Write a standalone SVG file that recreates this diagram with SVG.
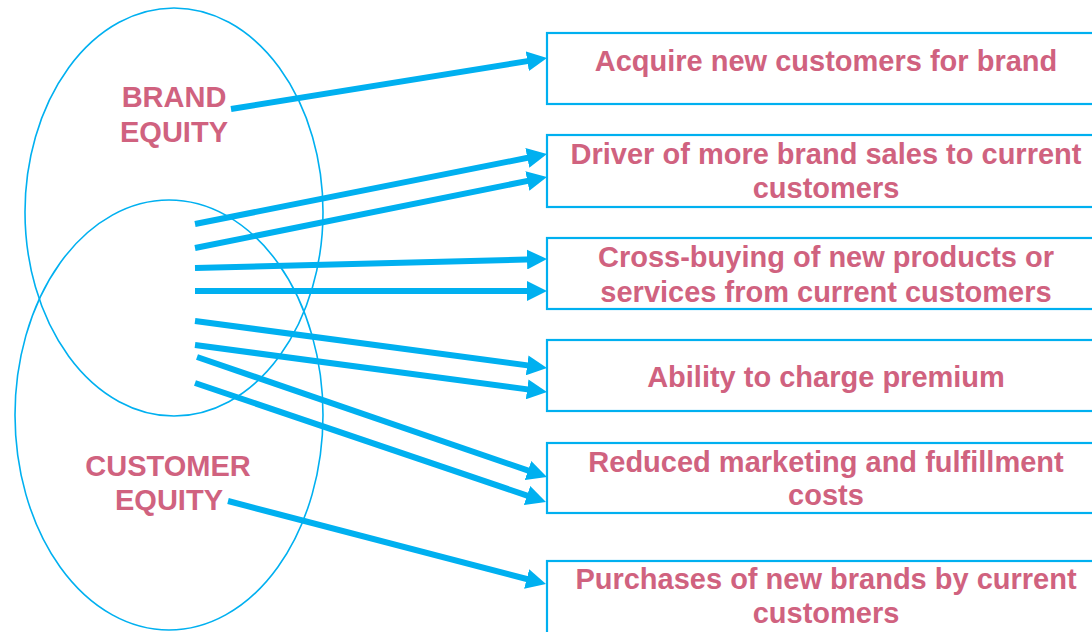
<svg xmlns="http://www.w3.org/2000/svg" width="1092" height="632" viewBox="0 0 1092 632">
  <style>
    .ring { fill: none; stroke: #00B0F0; stroke-width: 1.6; }
    .box { fill: #FFFFFF; stroke: #00B0F0; stroke-width: 2.2; }
    .lbl { font-family: "Liberation Sans", Arial, sans-serif; font-weight: bold; font-size: 29px; fill: #D0627F; text-anchor: middle; }
    .link { stroke: #00B0F0; stroke-width: 6; fill: none; marker-end: url(#head); }
  </style>
  <defs>
    <marker id="head" viewBox="0 0 20 20" refX="8" refY="10" markerWidth="20" markerHeight="20" markerUnits="userSpaceOnUse" orient="auto">
      <path d="M0,0 L20,10 L0,20 z" fill="#00B0F0"/>
    </marker>
  </defs>
  <rect width="1092" height="632" fill="#FFFFFF"/>

  <!-- overlapping equity ellipses -->
  <g id="brand-equity">
    <ellipse class="ring" cx="174" cy="212" rx="149" ry="204"/>
    <text class="lbl" x="174" y="107">BRAND</text>
    <text class="lbl" x="174" y="142">EQUITY</text>
  </g>
  <g id="customer-equity">
    <ellipse class="ring" cx="169" cy="415" rx="154" ry="215"/>
    <text class="lbl" x="168" y="476">CUSTOMER</text>
    <text class="lbl" x="169" y="510">EQUITY</text>
  </g>

  <!-- outcome boxes -->
  <g id="acquire">
    <rect class="box" x="547" y="33" width="560" height="71"/>
    <text class="lbl" x="826" y="71">Acquire new customers for brand</text>
  </g>
  <g id="driver">
    <rect class="box" x="547" y="135" width="560" height="72"/>
    <text class="lbl" x="826" y="164">Driver of more brand sales to current</text>
    <text class="lbl" x="826" y="198">customers</text>
  </g>
  <g id="cross-buying">
    <rect class="box" x="547" y="238" width="560" height="71"/>
    <text class="lbl" x="826" y="267">Cross-buying of new products or</text>
    <text class="lbl" x="826" y="302">services from current customers</text>
  </g>
  <g id="premium">
    <rect class="box" x="547" y="340" width="560" height="71"/>
    <text class="lbl" x="826" y="387">Ability to charge premium</text>
  </g>
  <g id="reduced-costs">
    <rect class="box" x="547" y="443" width="560" height="70"/>
    <text class="lbl" x="826" y="472">Reduced marketing and fulfillment</text>
    <text class="lbl" x="826" y="505">costs</text>
  </g>
  <g id="new-brands">
    <rect class="box" x="547" y="561" width="560" height="80"/>
    <text class="lbl" x="826" y="589">Purchases of new brands by current</text>
    <text class="lbl" x="826" y="623">customers</text>
  </g>

  <!-- connectors -->
  <g id="connectors">
    <line class="link" x1="231" y1="109" x2="535.2" y2="59.9"/>
    <line class="link" x1="195" y1="224" x2="535.2" y2="156.3"/>
    <line class="link" x1="195" y1="248" x2="535.2" y2="179.4"/>
    <line class="link" x1="195" y1="268" x2="535" y2="259.3"/>
    <line class="link" x1="195" y1="291" x2="535" y2="291"/>
    <line class="link" x1="195" y1="321" x2="535.1" y2="366.4"/>
    <line class="link" x1="195" y1="345" x2="535.1" y2="390.4"/>
    <line class="link" x1="197" y1="357" x2="535.6" y2="473.1"/>
    <line class="link" x1="195" y1="383" x2="534.6" y2="498.1"/>
    <line class="link" x1="228" y1="501" x2="534.4" y2="581"/>
  </g>
</svg>
